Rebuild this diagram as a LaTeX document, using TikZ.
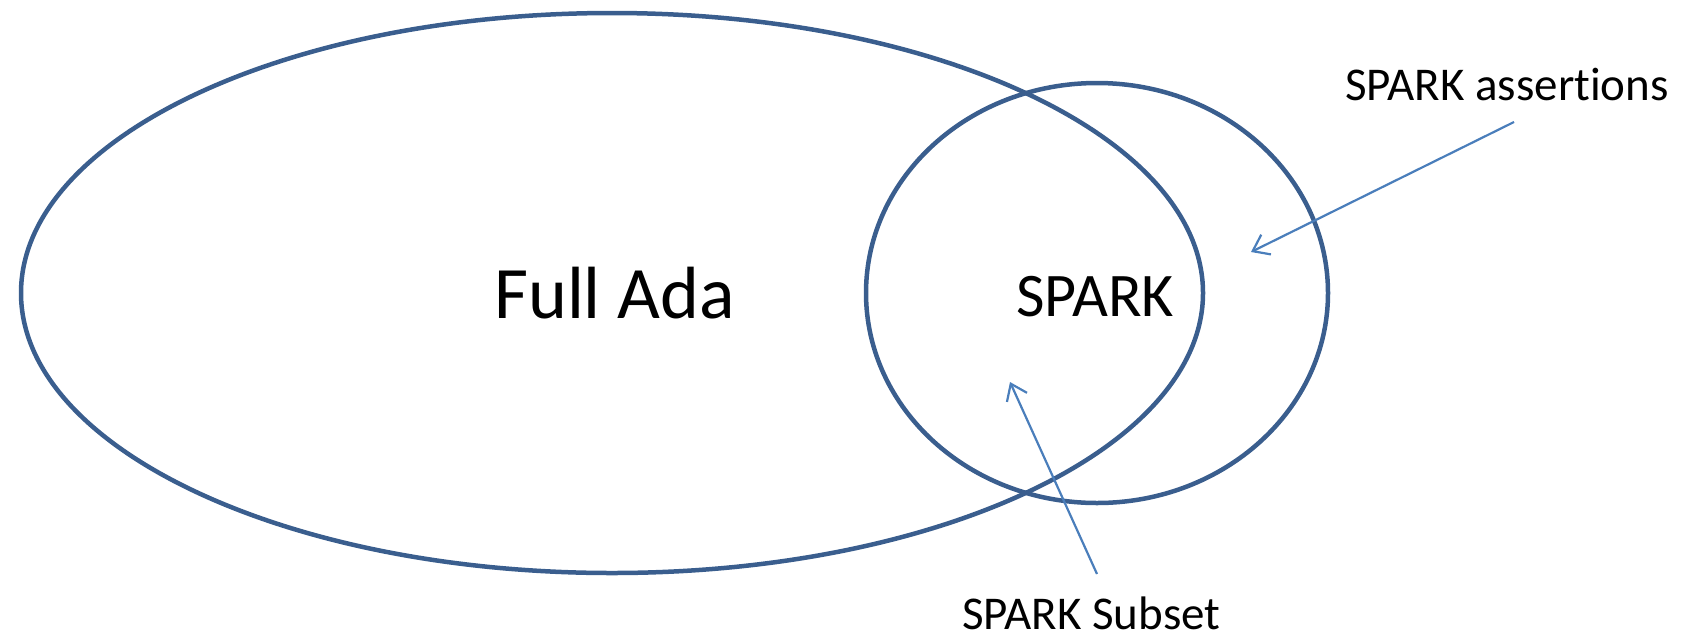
\documentclass[tikz,border=0pt]{standalone}
\usepackage{fontspec}
\setmainfont[Ligatures={NoCommon}]{Carlito}
\usetikzlibrary{arrows.meta}

\definecolor{outline}{HTML}{3A5E8E}
\definecolor{pointer}{HTML}{4A7EBB}

\tikzset{
  setshape/.style={draw=outline, line width=4.5pt},
  callout/.style={draw=pointer, line width=2.2pt,
    -{Straight Barb[length=15pt, width=22pt, line width=2.2pt]}},
  biglabel/.style={anchor=base west, inner sep=0pt, font=\fontsize{74}{80}\selectfont},
  midlabel/.style={anchor=base west, inner sep=0pt, font=\fontsize{62}{70}\selectfont},
  smalllabel/.style={anchor=base west, inner sep=0pt, font=\fontsize{47}{54}\selectfont},
}

\begin{document}
\begin{tikzpicture}[x=1pt, y=-1pt]
  \useasboundingbox (0,0) rectangle (1696,633);

  % the two sets
  \draw[setshape] (612,293) ellipse [x radius=591, y radius=280];
  \draw[setshape] (1097,293) ellipse [x radius=231, y radius=210];

  % set names
  \node[biglabel] (ada) at (494,318) {Full Ada};
  \node[midlabel] (spark) at (1016,316) {SPARK};

  % call-out labels and their pointers
  \node[smalllabel] (assert) at (1345,100) {SPARK assertions};
  \node[smalllabel] (subset) at (962,629) {SPARK Subset};

  \coordinate (assertfrom) at (1514,122);
  \coordinate (assertto) at (1251,252);
  \coordinate (subsetfrom) at (1097,574);
  \coordinate (subsetto) at (1010,382);

  \draw[callout] (assertfrom) -- (assertto);
  \draw[callout] (subsetfrom) -- (subsetto);
\end{tikzpicture}
\end{document}
